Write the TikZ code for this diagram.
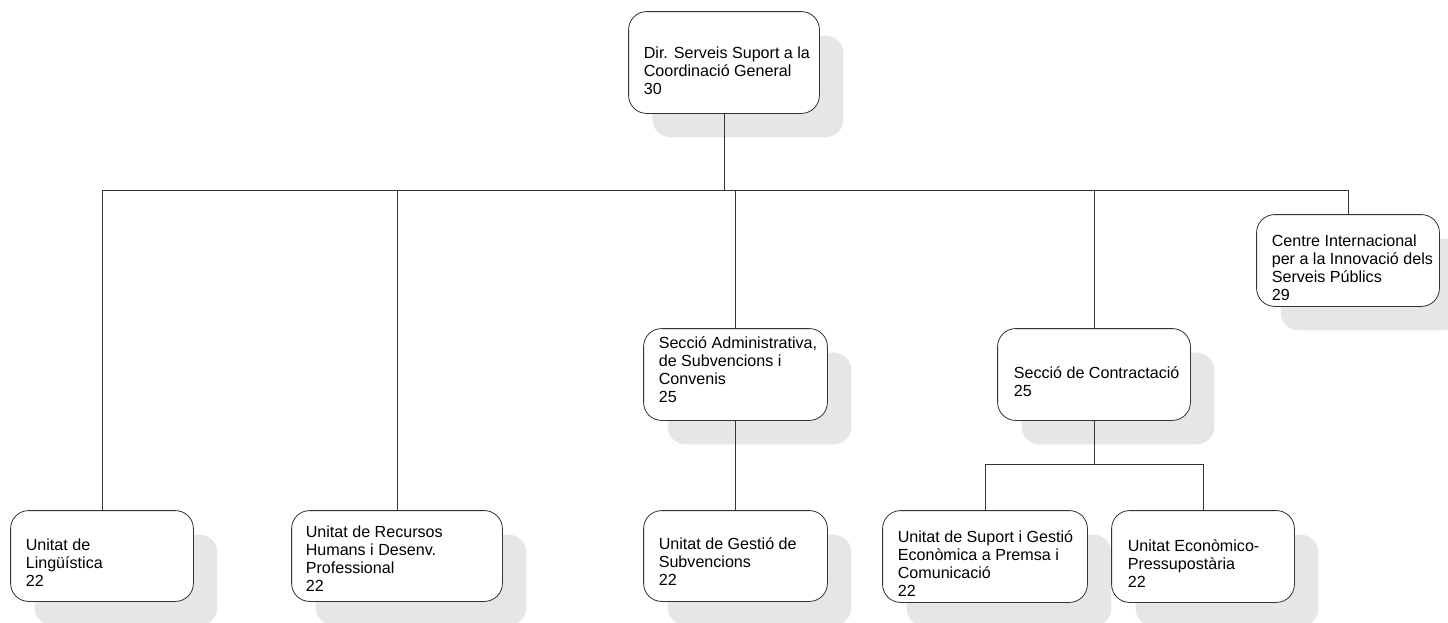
\documentclass[tikz,border=0pt]{standalone}
\usepackage{fontspec}
\setmainfont{Liberation Sans}
\definecolor{shadowc}{HTML}{E6E6E6}
\definecolor{linec}{HTML}{333333}
\begin{document}
\begin{tikzpicture}[x=1pt,y=-1pt,
  orgbox/.style={draw=linec, line width=0.8pt, fill=white, rounded corners=18pt, inner sep=0pt},
  orgtxt/.style={anchor=north west, inner sep=0pt, align=left, font=\fontsize{16.1}{18.2}\selectfont},
  conn/.style={draw=linec, line width=0.9pt},
  shade/.style={fill=shadowc, rounded corners=18pt}]
\useasboundingbox (0,0) rectangle (1448,622);
% boxes (placed first to get anchors)
\path
  (724,62.5)    node[orgbox, minimum width=190pt, minimum height=101pt] (top) {}
  (102,556)     node[orgbox, minimum width=182pt, minimum height=90pt] (ling) {}
  (397,556)     node[orgbox, minimum width=210pt, minimum height=90pt] (rrhh) {}
  (735.5,374.5) node[orgbox, minimum width=183pt, minimum height=91pt] (admin) {}
  (735.5,556)   node[orgbox, minimum width=183pt, minimum height=90pt] (gestio) {}
  (1094,374.5)  node[orgbox, minimum width=192pt, minimum height=91pt] (contr) {}
  (985,556.5)   node[orgbox, minimum width=204pt, minimum height=91pt] (suport) {}
  (1203,556.5)  node[orgbox, minimum width=182pt, minimum height=91pt] (econ) {}
  (1348,260.5)  node[orgbox, minimum width=182pt, minimum height=91pt] (ciis) {};
% shadows, connectors, then boxes redrawn on top
\begin{scope}
\foreach \n in {top,ling,rrhh,admin,gestio,contr,suport,econ,ciis}{
  \path[shade] ([shift={(24,24)}]\n.north west) rectangle ([shift={(24,24)}]\n.south east);
}
\coordinate (bus) at (0,190);
\coordinate (sub) at (0,464);
\draw[conn] (top.south) -- (top.south |- bus);
\draw[conn] (ling.north) -- (ling.north |- bus) -| (ciis.north);
\draw[conn] (rrhh.north) -- (rrhh.north |- bus);
\draw[conn] (admin.north) -- (admin.north |- bus);
\draw[conn] (contr.north) -- (contr.north |- bus);
\draw[conn] (admin.south) -- (gestio.north);
\draw[conn] (contr.south) -- (contr.south |- sub);
\draw[conn] (suport.north) -- (suport.north |- sub) -| (econ.north);
\foreach \n in {top,ling,rrhh,admin,gestio,contr,suport,econ,ciis}{
  \path[orgbox] (\n.north west) rectangle (\n.south east);
}
\end{scope}
% texts
\node[orgtxt] (ttop) at ([shift={(15,33.6)}]top.north west) {\strut Dir. Serveis Suport a la\\Coordinació General\\30};
\node[orgtxt] (tling) at ([shift={(15,26.6)}]ling.north west) {\strut Unitat de\\Lingüística\\22};
\node[orgtxt] (trrhh) at ([shift={(14,13.6)}]rrhh.north west) {\strut Unitat de Recursos\\Humans i Desenv.\\Professional\\22};
\node[orgtxt] (tadmin) at ([shift={(15,6.6)}]admin.north west) {\strut Secció Administrativa,\\de Subvencions i\\Convenis\\25};
\node[orgtxt] (tgestio) at ([shift={(15,25.6)}]gestio.north west) {\strut Unitat de Gestió de\\Subvencions\\22};
\node[orgtxt] (tcontr) at ([shift={(16,36.6)}]contr.north west) {\strut Secció de Contractació\\25};
\node[orgtxt] (tsuport) at ([shift={(15,18.6)}]suport.north west) {\strut Unitat de Suport i Gestió\\Econòmica a Premsa i\\Comunicació\\22};
\node[orgtxt] (tecon) at ([shift={(16,27.6)}]econ.north west) {\strut Unitat Econòmico-\\Pressupostària\\22};
\node[orgtxt] (tciis) at ([shift={(15,18.6)}]ciis.north west) {\strut Centre Internacional\\per a la Innovació dels\\Serveis Públics\\29};
\end{tikzpicture}
\end{document}
